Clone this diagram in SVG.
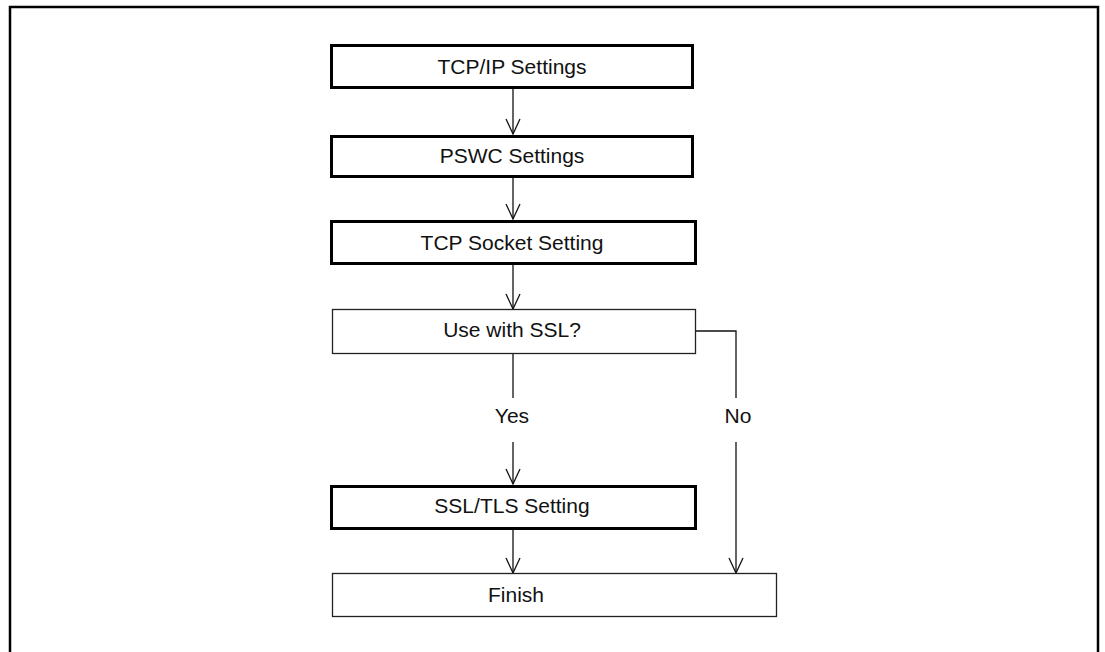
<svg xmlns="http://www.w3.org/2000/svg" width="1105" height="652" viewBox="0 0 1105 652">
  <defs>
    <style>
      .thick { fill: #fff; stroke: #000; stroke-width: 3; }
      .thin { fill: #fff; stroke: #222; stroke-width: 1.3; }
      .lbl { font-family: "Liberation Sans", Arial, sans-serif; font-size: 21px; fill: #111; text-anchor: middle; }
      .conn { fill: none; stroke: #111; stroke-width: 1.3; }
    </style>
    <marker id="vee" markerUnits="userSpaceOnUse" markerWidth="20" markerHeight="20" viewBox="-16 -10 20 20" refX="0" refY="0" orient="auto" overflow="visible">
      <path d="M-15,-7 L0,0 L-15,7" fill="none" stroke="#111" stroke-width="1.3"/>
    </marker>
  </defs>
  <rect width="1105" height="652" fill="#fff"/>
  <path d="M10,660 L10,7 L1098,7 L1098,660" fill="none" stroke="#000" stroke-width="2.5"/>

  <g id="connectors">
    <line class="conn" x1="513" y1="89" x2="513" y2="134" marker-end="url(#vee)"/>
    <line class="conn" x1="513" y1="178" x2="513" y2="219" marker-end="url(#vee)"/>
    <line class="conn" x1="513" y1="265" x2="513" y2="309" marker-end="url(#vee)"/>
    <line class="conn" x1="513" y1="354" x2="513" y2="398"/>
    <line class="conn" x1="513" y1="442" x2="513" y2="484" marker-end="url(#vee)"/>
    <line class="conn" x1="513" y1="530" x2="513" y2="573" marker-end="url(#vee)"/>
    <polyline class="conn" points="696,331 736,331 736,398"/>
    <line class="conn" x1="736" y1="442" x2="736" y2="573" marker-end="url(#vee)"/>
    <text class="lbl" x="512" y="423">Yes</text>
    <text class="lbl" x="738" y="423">No</text>
  </g>

  <g id="tcpip">
    <rect class="thick" x="331.5" y="45.5" width="361" height="42"/>
    <text class="lbl" x="512" y="74">TCP/IP Settings</text>
  </g>
  <g id="pswc">
    <rect class="thick" x="331.5" y="136.5" width="361" height="40"/>
    <text class="lbl" x="512" y="163">PSWC Settings</text>
  </g>
  <g id="tcpsocket">
    <rect class="thick" x="331.5" y="221.5" width="364" height="42"/>
    <text class="lbl" x="512" y="250">TCP Socket Setting</text>
  </g>
  <g id="usessl">
    <rect class="thin" x="332.5" y="309.5" width="363" height="44"/>
    <text class="lbl" x="512" y="337">Use with SSL?</text>
  </g>
  <g id="ssltls">
    <rect class="thick" x="331.5" y="486.5" width="364" height="42"/>
    <text class="lbl" x="512" y="513">SSL/TLS Setting</text>
  </g>
  <g id="finish">
    <rect class="thin" x="332.5" y="573.5" width="444" height="43"/>
    <text class="lbl" x="516" y="602">Finish</text>
  </g>
</svg>
